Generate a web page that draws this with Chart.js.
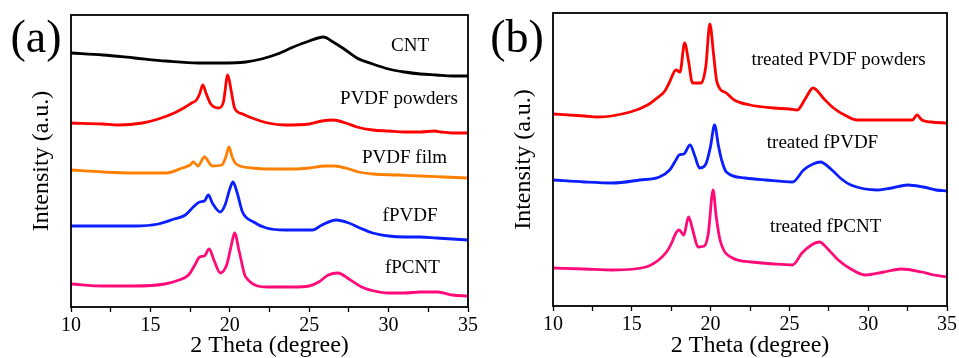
<!DOCTYPE html>
<html>
<head>
<meta charset="utf-8">
<script src="https://cdn.jsdelivr.net/npm/chart.js@4"></script>
<style>
  body { margin: 0; background: #fff; }
  .wrap { display: flex; width: 959px; height: 358px; }
</style>
</head>
<body>
<div class="wrap">
  <canvas id="chartA" width="480" height="358"></canvas>
  <canvas id="chartB" width="479" height="358"></canvas>
</div>
<script>
// panel (a) - 2 theta / intensity (a.u., stacked offsets as drawn)
const cntTheta = [10, 12, 14, 16, 18, 19.5, 21, 22, 23, 24, 25, 25.9, 26.5, 27.2, 28, 29, 30, 31, 32, 33, 34, 35];
const cntInt = [254, 252, 249, 246, 244, 244, 245, 248, 253, 260, 266, 270, 265, 258, 249, 243, 238, 235, 233, 232, 231, 231];

const powTheta = [10, 12, 13, 14.5, 15.5, 16.5, 17.2, 17.6, 17.9, 18.1, 18.3, 18.5, 18.8, 19.3, 19.6, 19.87, 20.1, 20.3, 20.8, 21.4, 22.4, 23.5, 25, 25.8, 26.5, 27.3, 28, 29, 30, 31, 32, 32.9, 33.3, 34, 35];
const powInt = [184, 183, 182, 184, 188, 194, 200, 204, 207, 213, 222, 214, 203, 199, 205, 232, 215, 199, 193, 189, 184, 182, 183, 186, 187, 184, 180, 177, 176, 175, 175, 176, 175, 174, 174];

const filmTheta = [10, 12, 14, 16, 17, 17.5, 17.7, 18, 18.4, 18.9, 19.5, 19.75, 19.95, 20.15, 20.4, 21.4, 22.4, 24, 25, 26, 26.6, 27.5, 28.1, 29, 30.6, 32, 33.5, 35];
const filmInt = [137, 135, 134, 134, 139, 142, 145, 141, 150, 141, 142, 150, 160, 150, 143, 139, 138, 138, 139, 141, 141, 138, 135, 133, 132, 131, 130, 129];

const fpvdfTheta = [10, 12, 14, 15.5, 16.5, 17.2, 17.7, 18.1, 18.4, 18.65, 18.9, 19.4, 19.7, 20.0, 20.2, 20.45, 20.8, 21.5, 22.3, 23.5, 25.2, 25.8, 26.7, 27.5, 28.2, 29, 30, 31, 32, 33, 34, 35];
const fpvdfInt = [81, 81, 81, 83, 88, 92, 100, 105, 106, 112, 104, 95, 102, 118, 125, 115, 95, 85, 79, 77, 77, 82, 87, 84, 79, 74, 71, 70, 70, 69, 68, 67];

const fpcntTheta = [10, 12, 14, 15.9, 16.8, 17.4, 17.8, 18.1, 18.4, 18.7, 19.0, 19.4, 19.8, 20.1, 20.3, 20.6, 21.0, 22.4, 24, 25, 25.6, 26.2, 26.8, 27.5, 28.3, 29.1, 30, 31, 32, 33.1, 34, 35];
const fpcntInt = [23, 21, 21, 23, 27, 32, 42, 50, 51, 58, 47, 34, 42, 62, 74, 55, 30, 20, 20, 21, 25, 32, 34, 28, 20, 16, 14, 14, 15, 15, 12, 11];

// panel (b)
const tPowTheta = [10, 12, 12.8, 14.9, 16, 16.6, 17.1, 17.4, 17.8, 18.06, 18.35, 18.6, 18.85, 19.4, 19.7, 19.95, 20.2, 20.4, 21, 21.5, 22.5, 24, 25, 25.5, 26, 26.5, 27.2, 27.8, 28.5, 29.3, 30.5, 32, 32.8, 33.1, 33.4, 34, 35];
const tPowInt = [192, 190, 189, 194, 201, 208, 215, 224, 236, 234, 263, 245, 223, 223, 240, 282, 250, 224, 213, 206, 201, 198, 197, 196, 207, 218, 207, 198, 191, 186, 186, 186, 186, 191, 186, 184, 183];

const tFpvdfTheta = [10, 12, 13.8, 15.5, 16.75, 17.4, 17.8, 18.0, 18.3, 18.7, 19.0, 19.3, 19.7, 20.0, 20.25, 20.5, 20.7, 21.0, 22.2, 23.5, 25.2, 25.9, 26.5, 26.96, 27.7, 28.3, 28.9, 30.6, 31.5, 32.5, 33.5, 34.3, 35];
const tFpvdfInt = [126, 124, 123, 126, 129, 136, 146, 151, 152, 161, 150, 138, 142, 160, 181, 160, 146, 134, 128, 126, 124, 136, 142, 144, 136, 127, 121, 116, 118, 121, 119, 116, 115];

const tFpcntTheta = [10, 12, 13.8, 15.9, 16.7, 17.2, 17.5, 17.8, 18.0, 18.3, 18.6, 18.9, 19.2, 19.6, 19.85, 20.16, 20.35, 20.6, 21.4, 22.6, 24, 25.2, 25.8, 26.4, 26.9, 27.5, 28.1, 28.9, 29.8, 31, 32.1, 33.4, 34.2, 35];
const tFpcntInt = [38, 37, 36, 39, 46, 54, 62, 73, 76, 71, 89, 74, 59, 60, 72, 116, 90, 66, 48, 44, 42, 41, 53, 61, 64, 56, 46, 37, 31, 34, 37, 34, 31, 29];

const xTicks = [10, 15, 20, 25, 30, 35];

const FONT = '"Liberation Serif", "Times New Roman", serif';

const toPoints = (xs, ys) => xs.map((x, i) => ({ x: x, y: ys[i] }));

const series = (xs, ys, color) => ({
    data: toPoints(xs, ys),
    borderColor: color,
    borderWidth: 2.8,
    pointRadius: 0,
    cubicInterpolationMode: 'monotone',
    fill: false
});

// frame, panel letter and the curve names
const decoPlugin = {
    id: 'deco',
    afterDraw(chart) {
        const { ctx, chartArea, scales } = chart;
        const opts = chart.options.plugins.deco;
        ctx.save();
        ctx.strokeStyle = '#000';
        ctx.lineWidth = 1.8;
        ctx.strokeRect(chartArea.left, chartArea.top, chartArea.right - chartArea.left, chartArea.bottom - chartArea.top);

        ctx.fillStyle = '#000';
        ctx.textAlign = 'center';
        ctx.textBaseline = 'middle';
        ctx.font = '46px ' + FONT;
        ctx.fillText(opts.letter, opts.letterX, 40);

        ctx.font = '19px ' + FONT;
        opts.names.forEach(n => {
            ctx.fillText(n.text, scales.x.getPixelForValue(n.x), scales.y.getPixelForValue(n.y));
        });
        ctx.restore();
    }
};

const makeChart = (canvas, datasets, cfg) => new Chart(canvas, {
    type: 'line',
    data: { datasets: datasets },
    options: {
        responsive: false,
        animation: false,
        layout: { padding: { top: cfg.top, right: cfg.right, left: 0, bottom: 0 } },
        plugins: {
            legend: { display: false },
            tooltip: { enabled: false },
            deco: { letter: cfg.letter, letterX: cfg.letterX, names: cfg.names }
        },
        scales: {
            x: {
                type: 'linear',
                min: 10,
                max: 35,
                afterFit: scale => { scale.height = cfg.xHeight; },
                afterBuildTicks: scale => {
                    const t = [];
                    for (let v = 10; v <= 35; v += 2.5) t.push({ value: v });
                    scale.ticks = t;
                },
                border: { display: false },
                grid: { drawOnChartArea: false, tickLength: 5, tickColor: '#000', tickWidth: 1.3 },
                ticks: {
                    color: '#000',
                    padding: 2,
                    maxRotation: 0,
                    font: { family: FONT, size: 20 },
                    callback: v => xTicks.includes(v) ? String(v) : ''
                },
                title: {
                    display: true,
                    text: '2 Theta (degree)',
                    color: '#000',
                    padding: 0,
                    font: { family: FONT, size: 24, lineHeight: 1 }
                }
            },
            y: {
                min: 0,
                max: cfg.yMax,
                afterFit: scale => { scale.width = cfg.yWidth; },
                border: { display: false },
                grid: { display: false },
                ticks: { display: false },
                title: {
                    display: true,
                    text: 'Intensity (a.u.)',
                    color: '#000',
                    padding: { top: cfg.yTitlePad, bottom: 0 },
                    font: { family: FONT, size: 24, lineHeight: 1 }
                }
            }
        }
    },
    plugins: [decoPlugin]
});

makeChart(document.getElementById('chartA'), [
    series(cntTheta, cntInt, '#000000'),
    series(powTheta, powInt, '#ff0000'),
    series(filmTheta, filmInt, '#ff8000'),
    series(fpvdfTheta, fpvdfInt, '#0a1eff'),
    series(fpcntTheta, fpcntInt, '#ff0a78')
], {
    top: 15, right: 12, xHeight: 51, yWidth: 71, yMax: 292, yTitlePad: 30,
    letter: '(a)', letterX: 36,
    names: [
        { text: 'CNT', x: 31.35, y: 261 },
        { text: 'PVDF powders', x: 30.65, y: 208 },
        { text: 'PVDF film', x: 31.0, y: 149 },
        { text: 'fPVDF', x: 31.35, y: 91 },
        { text: 'fPCNT', x: 31.5, y: 39 }
    ]
});

makeChart(document.getElementById('chartB'), [
    series(tPowTheta, tPowInt, '#ff0000'),
    series(tFpvdfTheta, tFpvdfInt, '#0a1eff'),
    series(tFpcntTheta, tFpcntInt, '#ff0a78')
], {
    top: 13, right: 10, xHeight: 52, yWidth: 73, yMax: 293, yTitlePad: 32,
    letter: '(b)', letterX: 37,
    names: [
        { text: 'treated PVDF powders', x: 28.12, y: 246 },
        { text: 'treated fPVDF', x: 27.1, y: 163 },
        { text: 'treated fPCNT', x: 27.3, y: 79 }
    ]
});
</script>
</body>
</html>
